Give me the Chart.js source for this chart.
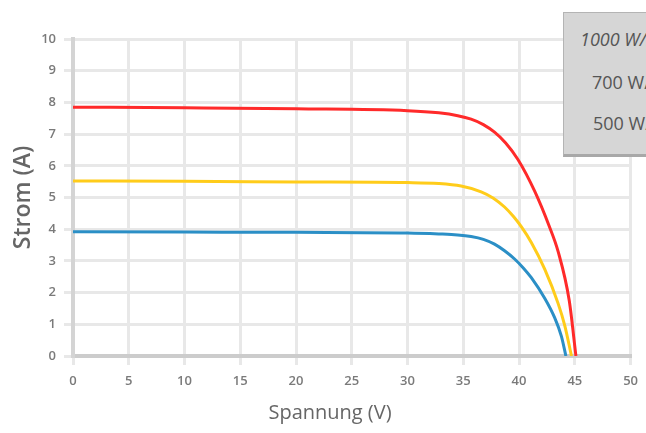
<!DOCTYPE html>
<html>
<head>
<meta charset="utf-8">
<script src="https://cdn.jsdelivr.net/npm/chart.js@4/dist/chart.umd.min.js"></script>
<style>
    html, body { margin: 0; padding: 0; overflow: hidden; background: #fff; }
    #wrap { position: relative; width: 646px; height: 433px; }
    #legend {
        position: absolute; left: 563px; top: 12px; width: 130px; height: 141px;
        background: #d6d6d6; border: 1px solid #b4b4b4; border-bottom: 3px solid #a8a8a8;
        font-family: "Open Sans", sans-serif; font-size: 18px; color: #555;
    }
    #legend span { position: absolute; white-space: nowrap; }
    #xtitle {
        position: absolute; left: 230px; width: 200px; top: 398px; text-align: center;
        font-family: "Open Sans", sans-serif; font-size: 20px; color: #666;
    }
</style>
</head>
<body>
<div id="wrap">
    <canvas id="chart1" width="646" height="433"></canvas>
    <div id="xtitle">Spannung (V)</div>
    <div id="legend">
        <span style="left:16px; top:14px; font-style:italic;">1000 W/m²</span>
        <span style="left:28px; top:57px;">700 W/m²</span>
        <span style="left:29px; top:98px;">500 W/m²</span>
    </div>
</div>
<script>
// Spannung (V) / Strom (A) pairs
const seriesLabels = ['1000 W/m²', '700 W/m²', '500 W/m²'];
const voltage1000 = [0, 10, 20, 30, 32.8, 34.5, 35.7, 36.8, 37.8, 38.8, 39.9, 41.4, 42.7, 43.5, 44.5, 45.1];
const current1000 = [7.85, 7.83, 7.8, 7.74, 7.67, 7.58, 7.47, 7.3, 7.06, 6.72, 6.2, 5.2, 4.1, 3.3, 1.75, 0];
const voltage700 = [0, 10, 20, 30, 32.8, 34.8, 36.6, 37.7, 38.7, 39.5, 40.2, 41.1, 42.3, 43.5, 44.1, 44.7];
const current700 = [5.52, 5.51, 5.49, 5.47, 5.44, 5.36, 5.18, 4.98, 4.7, 4.4, 4.08, 3.58, 2.74, 1.66, 0.96, 0];
const voltage500 = [0, 10, 20, 30, 32.8, 34.5, 35.7, 36.8, 37.8, 38.7, 39.6, 40.4, 41.1, 42.3, 43.2, 43.8, 44.2];
const current500 = [3.92, 3.91, 3.9, 3.88, 3.85, 3.82, 3.77, 3.68, 3.53, 3.32, 3.06, 2.77, 2.47, 1.82, 1.2, 0.62, 0];
const xTicks = [0, 5, 10, 15, 20, 25, 30, 35, 40, 45, 50];
const yTicks = [0, 1, 2, 3, 4, 5, 6, 7, 8, 9, 10];

function toPoints(xs, ys) {
    return xs.map(function (x, i) { return { x: x, y: ys[i] }; });
}

function makeSet(label, xs, ys, color) {
    return {
        label: label,
        data: toPoints(xs, ys),
        borderColor: color,
        borderWidth: 3,
        pointRadius: 0,
        fill: false,
        cubicInterpolationMode: 'monotone'
    };
}

const tickFont = { family: 'Open Sans', size: 13, weight: '600' };

const ctx = document.getElementById('chart1').getContext('2d');
new Chart(ctx, {
    type: 'line',
    data: {
        datasets: [
            makeSet(seriesLabels[0], voltage1000, current1000, '#ff2a2a'),
            makeSet(seriesLabels[1], voltage700, current700, '#ffcc1a'),
            makeSet(seriesLabels[2], voltage500, current500, '#2b8fc6')
        ]
    },
    options: {
        responsive: false,
        animation: false,
        layout: { padding: { top: 39, right: 13, left: 0, bottom: 0 } },
        plugins: { legend: { display: false }, tooltip: { enabled: false } },
        scales: {
            x: {
                type: 'linear',
                min: xTicks[0],
                max: xTicks[xTicks.length - 1],
                afterBuildTicks: function (s) { s.ticks = xTicks.map(function (v) { return { value: v }; }); },
                afterFit: function (s) { s.height = 77; },
                grid: { color: '#e8e8e8', lineWidth: 3, tickLength: 9 },
                border: { color: '#cccccc', width: 4 },
                ticks: { color: '#7a7a7a', padding: 8, font: tickFont }
            },
            y: {
                min: yTicks[0],
                max: yTicks[yTicks.length - 1],
                afterBuildTicks: function (s) { s.ticks = yTicks.map(function (v) { return { value: v }; }); },
                afterFit: function (s) { s.width = 73; },
                grid: { color: '#e8e8e8', lineWidth: 3, tickLength: 9 },
                border: { color: '#d4d4d4', width: 4 },
                ticks: { color: '#7a7a7a', padding: 8, font: tickFont },
                title: {
                    display: true, text: 'Strom (A)', color: '#666',
                    font: { family: 'Open Sans', size: 23, weight: '600' }, padding: { top: 10, bottom: 4 }
                }
            }
        }
    }
});
</script>
</body>
</html>
